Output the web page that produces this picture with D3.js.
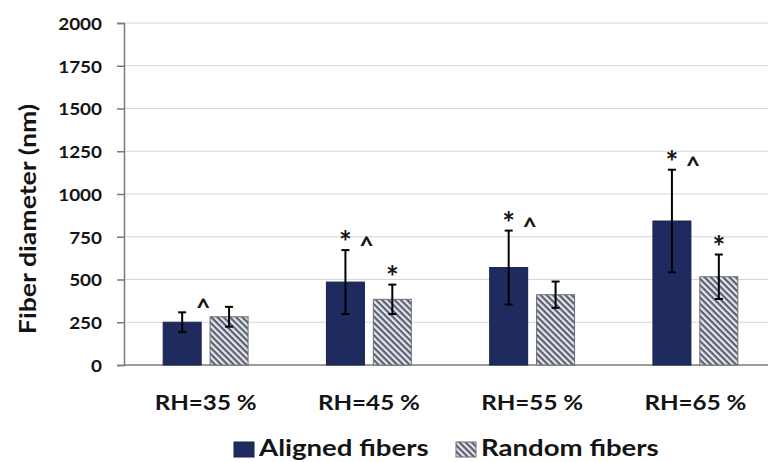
<!DOCTYPE html>
<html>
<head>
<meta charset="utf-8">
<script src="https://cdn.jsdelivr.net/npm/d3@7/dist/d3.min.js"></script>
<style>
  html, body { margin: 0; padding: 0; background: #fff; }
  svg { display: block; }
  text { font-family: Lato, "Open Sans", sans-serif; font-weight: 700; fill: #141414; }
</style>
</head>
<body>
<svg id="chart" width="768" height="462"></svg>
<script>
// Relative humidity groups and the two fiber series (mean ± SD, nm)
const categories = ["RH=35 %", "RH=45 %", "RH=55 %", "RH=65 %"];
const seriesNames = ["Aligned fibers", "Random fibers"];
const alignedMean = [250, 485, 570, 842];
const alignedSD   = [58, 187, 216, 300];
const randomMean  = [282, 384, 411, 516];
const randomSD    = [58, 86, 77, 130];
// Significance marks drawn above each bar
const alignedStar  = [false, true, true, true];
const alignedCaret = [true, true, true, true];
const randomStar   = [false, true, false, true];
const yTicks = [0, 250, 500, 750, 1000, 1250, 1500, 1750, 2000];

const W = 768, H = 462;
const plotL = 124, plotR = 777, plotT = 23, plotB = 365;
const NAVY = "#1f2a5e";
const SX = 1.18;   // wide lettering

const svg = d3.select("#chart");

// place a text at (x, y) with horizontally widened glyphs
function placeWide(sel, fx, fy, sx) {
  sel.attr("x", 0).attr("y", 0)
    .attr("transform", (d, i) => `translate(${fx(d, i)},${fy(d, i)}) scale(${sx},1)`);
}

const defs = svg.append("defs");
const pat = defs.append("pattern")
  .attr("id", "hatch").attr("patternUnits", "userSpaceOnUse")
  .attr("width", 4.4).attr("height", 4.4)
  .attr("patternTransform", "rotate(45)");
pat.append("rect").attr("width", 4.4).attr("height", 4.4).attr("fill", "#e6e8ee");
pat.append("rect").attr("width", 4.4).attr("height", 2.2).attr("fill", "#5a6072");

const x = d3.scaleBand().domain(categories).range([plotL, plotR])
  .paddingInner(0.48).paddingOuter(0.24);
const xs = d3.scaleBand().domain(seriesNames).range([0, x.bandwidth()])
  .paddingInner(0.19).paddingOuter(0);
const y = d3.scaleLinear().domain([0, 2000]).range([plotB, plotT]);

// Gridlines
svg.append("g")
  .selectAll("line").data(yTicks.filter(d => d > 0)).join("line")
  .attr("x1", plotL).attr("x2", W)
  .attr("y1", d => y(d)).attr("y2", d => y(d))
  .attr("stroke", "#d6d6d6").attr("stroke-width", 1.2);

// Y axis
const tickPad = 15, tickLen = 7, tickSX = 1.08;
const yAxis = svg.append("g").attr("transform", `translate(${plotL},0)`)
  .call(d3.axisLeft(y).tickValues(yTicks).tickSize(tickLen).tickPadding(tickPad).tickFormat(d3.format("d")));
yAxis.select(".domain").attr("stroke", "#7a7a7a").attr("stroke-width", 1.5);
yAxis.selectAll(".tick line").attr("stroke", "#7a7a7a").attr("stroke-width", 1.5);
yAxis.selectAll(".tick text")
  .attr("fill", "#141414").attr("font-family", null).attr("font-size", null)
  .style("font-size", "17.5px").style("font-weight", 700)
  .attr("x", -(tickLen + tickPad) / tickSX).attr("dy", "0.36em")
  .attr("transform", `scale(${tickSX},1)`);

// X axis baseline
svg.append("line").attr("x1", plotL).attr("x2", W)
  .attr("y1", y(0)).attr("y2", y(0))
  .attr("stroke", "#7a7a7a").attr("stroke-width", 1.5);

const rows = categories.map((c, i) => ({
  cat: c,
  bars: [
    { s: seriesNames[0], v: alignedMean[i], e: alignedSD[i], star: alignedStar[i], caret: alignedCaret[i] },
    { s: seriesNames[1], v: randomMean[i], e: randomSD[i], star: randomStar[i], caret: false }
  ]
}));

const groups = svg.append("g").selectAll("g").data(rows).join("g")
  .attr("transform", d => `translate(${x(d.cat)},0)`);

groups.selectAll("rect").data(d => d.bars).join("rect")
  .attr("x", d => xs(d.s)).attr("width", xs.bandwidth())
  .attr("y", d => y(d.v)).attr("height", d => y(0) - y(d.v))
  .attr("fill", (d, i) => i === 0 ? NAVY : "url(#hatch)")
  .attr("stroke", (d, i) => i === 0 ? "#1a2250" : "#6e6e6e")
  .attr("stroke-width", 1);

// Error bars
const cx = d => xs(d.s) + xs.bandwidth() / 2;
const eb = groups.selectAll("g.err").data(d => d.bars).join("g").attr("class", "err");
eb.append("line")
  .attr("x1", cx).attr("x2", cx)
  .attr("y1", d => y(d.v + d.e)).attr("y2", d => y(d.v - d.e))
  .attr("stroke", "#000").attr("stroke-width", 2);
[1, -1].forEach(sgn => {
  eb.append("line")
    .attr("x1", d => cx(d) - 4).attr("x2", d => cx(d) + 4)
    .attr("y1", d => y(d.v + sgn * d.e)).attr("y2", d => y(d.v + sgn * d.e))
    .attr("stroke", "#000").attr("stroke-width", 2);
});

// Significance marks
eb.filter(d => d.star).append("text")
  .attr("x", cx).attr("y", d => y(d.v + d.e) + 3)
  .attr("text-anchor", "middle").style("font-size", "30px").text("*");
eb.filter(d => d.caret).append("text")
  .attr("x", d => cx(d) + 21).attr("y", d => y(d.v + d.e) + 4)
  .attr("text-anchor", "middle").style("font-size", "25px").text("^");

// Category labels
svg.append("g").selectAll("text").data(categories).join("text")
  .attr("text-anchor", "middle").style("font-size", "20.5px").text(d => d)
  .call(placeWide, d => x(d) + x.bandwidth() / 2, () => 410, SX);

// Y axis title
svg.append("text")
  .attr("transform", `translate(36,219) rotate(-90) scale(1.16,1)`)
  .attr("text-anchor", "middle").style("font-size", "23px")
  .text("Fiber diameter (nm)");

// Legend
const legend = svg.append("g");
const legendX = [234, 456];
seriesNames.forEach((s, i) => {
  legend.append("rect").attr("x", legendX[i]).attr("y", 442).attr("width", 20).attr("height", 15)
    .attr("fill", i === 0 ? NAVY : "url(#hatch)")
    .attr("stroke", i === 0 ? "#1a2250" : "#6e6e6e").attr("stroke-width", 1);
  legend.append("text").style("font-size", "23px").text(s)
    .attr("x", 0).attr("y", 0)
    .attr("transform", `translate(${legendX[i] + 25},456) scale(1.2,1)`);
});
</script>
</body>
</html>
